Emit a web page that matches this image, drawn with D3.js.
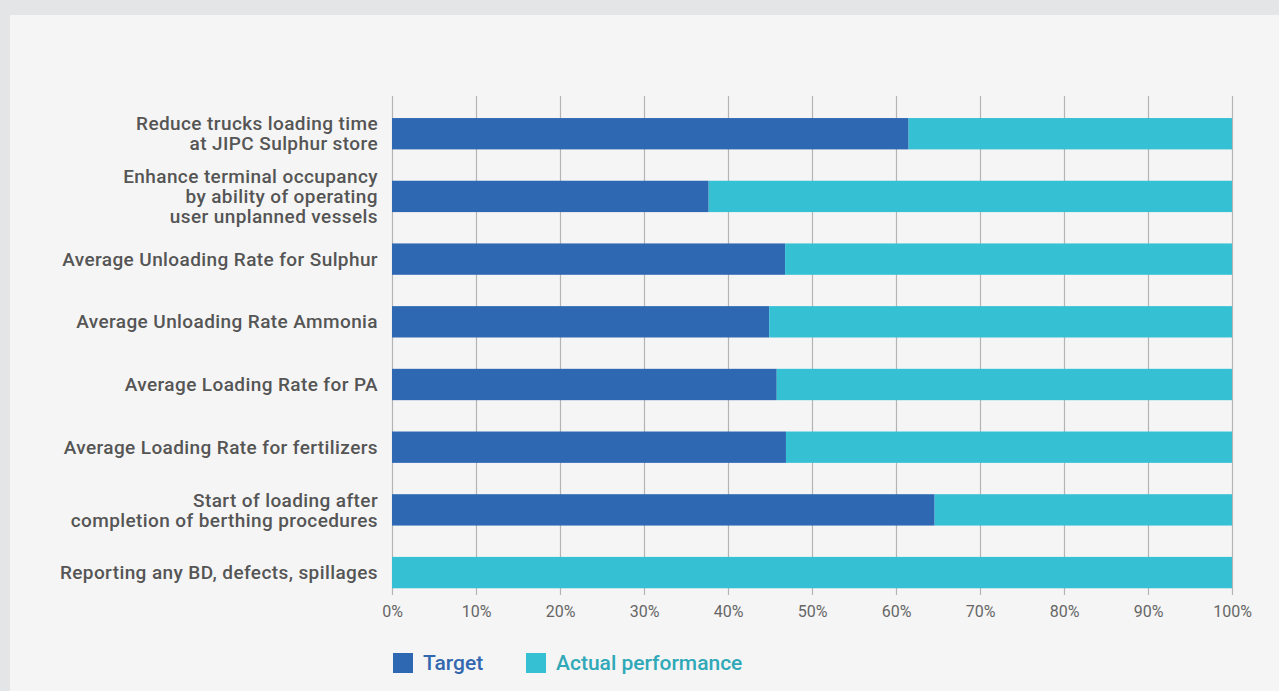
<!DOCTYPE html>
<html>
<head>
<meta charset="utf-8">
<script src="https://cdn.jsdelivr.net/npm/d3@7"></script>
<style>
  html, body { margin: 0; padding: 0; background: #e4e5e7; }
  svg { display: block; font-family: Roboto, "Noto Sans", sans-serif; }
</style>
</head>
<body>
<div id="chart"></div>
<script>
// categories, top to bottom
var categories = [
    "Reduce trucks loading time\nat JIPC Sulphur store",
    "Enhance terminal occupancy\nby ability of operating\nuser unplanned vessels",
    "Average Unloading Rate for Sulphur",
    "Average Unloading Rate Ammonia",
    "Average Loading Rate for PA",
    "Average Loading Rate for fertilizers",
    "Start of loading after\ncompletion of berthing procedures",
    "Reporting any BD, defects, spillages"
];

// share of each bar, in percent
var target = [61.5, 37.7, 46.8, 44.9, 45.8, 46.9, 64.6, 0];
var actual = [38.5, 62.3, 53.2, 55.1, 54.2, 53.1, 35.4, 100];

var seriesNames = ["Target", "Actual performance"];
var tickValues = [0, 0.1, 0.2, 0.3, 0.4, 0.5, 0.6, 0.7, 0.8, 0.9, 1];

var W = 1279, H = 691;
var colors = {"Target": "#2e68b2", "Actual performance": "#35c0d4"};
var legendText = {"Target": "#3367b0", "Actual performance": "#2fa8b8"};

var rows = categories.map(function (c, i) {
    return {cat: c, "Target": target[i], "Actual performance": actual[i]};
});

var svg = d3.select("#chart").append("svg")
    .attr("width", W)
    .attr("height", H);

// light panel
svg.append("rect")
    .attr("x", 10).attr("y", 15)
    .attr("width", W - 10).attr("height", H - 15)
    .attr("fill", "#f5f5f5");

var x = d3.scaleLinear()
    .domain([0, 1])
    .range([392, 1232]);

var y = d3.scaleBand()
    .domain(categories)
    .range([86.7, 619.6])
    .padding(0.5);

var stacked = d3.stack()
    .keys(seriesNames)
    .offset(d3.stackOffsetExpand)(rows);

// gridlines + tick labels
var xAxis = d3.axisBottom(x)
    .tickValues(tickValues)
    .tickFormat(d3.format(".0%"))
    .tickSizeInner(-(595 - 96))
    .tickSizeOuter(0)
    .tickPadding(11);

var gx = svg.append("g")
    .attr("transform", "translate(0,595)")
    .call(xAxis);
gx.select(".domain").remove();
gx.selectAll(".tick line")
    .attr("stroke", "#b4b4b4")
    .attr("stroke-width", 1.2);
gx.selectAll(".tick text")
    .attr("fill", "#666")
    .attr("font-size", 16)
    .attr("font-family", "Roboto, sans-serif");

// bars
svg.selectAll(".layer")
    .data(stacked)
    .enter().append("g")
    .attr("class", "layer")
    .attr("fill", function (d) { return colors[d.key]; })
    .selectAll("rect")
    .data(function (d) { return d; })
    .enter().append("rect")
    .attr("x", function (d) { return x(d[0]); })
    .attr("y", function (d) { return y(d.data.cat); })
    .attr("width", function (d) { return x(d[1]) - x(d[0]); })
    .attr("height", y.bandwidth());

// category labels
var lineH = 20;
svg.selectAll(".cat")
    .data(categories)
    .enter().append("text")
    .attr("class", "cat")
    .attr("text-anchor", "end")
    .attr("fill", "#555")
    .attr("font-size", 19)
    .attr("letter-spacing", 0.4)
    .attr("font-weight", 500)
    .each(function (d) {
        var lines = d.split("\n");
        var cy = y(d) + y.bandwidth() / 2;
        var t = d3.select(this);
        lines.forEach(function (ln, k) {
            t.append("tspan")
                .attr("x", 378)
                .attr("y", cy + (k - (lines.length - 1) / 2) * lineH)
                .attr("dy", "0.35em")
                .text(ln);
        });
    });

// legend
var legendX = [393, 526];
var lg = svg.selectAll(".legend")
    .data(seriesNames)
    .enter().append("g")
    .attr("class", "legend")
    .attr("transform", function (d, i) { return "translate(" + legendX[i] + ",653)"; });

lg.append("rect")
    .attr("width", 20)
    .attr("height", 20)
    .attr("fill", function (d) { return colors[d]; });

lg.append("text")
    .attr("x", 30)
    .attr("y", 10)
    .attr("dy", "0.35em")
    .attr("font-size", 21)
    .attr("font-weight", 500)
    .attr("fill", function (d) { return legendText[d]; })
    .text(function (d) { return d; });
</script>
</body>
</html>
